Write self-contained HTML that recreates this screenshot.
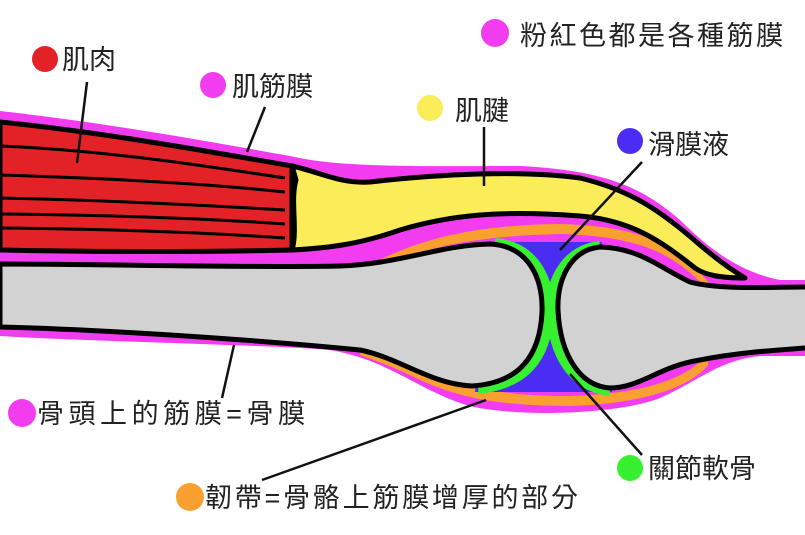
<!DOCTYPE html>
<html><head><meta charset="utf-8"><style>
html,body{margin:0;padding:0;background:#fff;width:805px;height:535px;overflow:hidden}
svg{display:block}
text{font-family:"Liberation Sans","Noto Sans CJK TC",sans-serif;font-size:27px;fill:#222}
</style></head><body>
<svg width="805" height="535" viewBox="0 0 805 535" xmlns="http://www.w3.org/2000/svg">
<path d="M0,111 C100,122 200,140 290,156 C340,168 420,166 520,166 C600,170 640,185 680,220 C710,250 740,272 780,280 L805,280 L805,356 L760,356 C720,360 700,380 660,398 C620,414 520,418 470,406 C420,392 390,360 330,350 C250,344 100,342 0,336 Z" fill="#f23cf0"/>
<path d="M375,262 C420,240 470,225 560,224 C640,226 680,245 708,282 L708,365 C690,388 640,404 570,406 C500,406 460,398 420,380 C400,370 380,362 360,355 Z" fill="#f9a030"/>
<path d="M395,262 C430,246 480,236 560,234 C635,236 670,252 700,282 L700,362 C680,380 640,394 570,396 C505,396 468,388 430,374 C410,366 390,358 372,352 Z" fill="#f23cf0"/>
<path d="M492,242 L602,242 L612,392 L475,392 Z" fill="#4b2cf2"/>
<path d="M495,244 C535,248 549,282 548,312 C546,355 526,383 478,388" fill="none" stroke="#37f030" stroke-width="12"/>
<path d="M600,247 C568,250 551,280 552,310 C554,355 574,386 610,390" fill="none" stroke="#37f030" stroke-width="12"/>
<path d="M0,264 C100,264 250,268 340,266 C400,264 440,245 490,244 C530,246 543,280 542,312 C540,355 520,383 472,386 C430,384 400,358 360,350 C280,342 120,330 0,327 Z" fill="#d2d2d2" stroke="#000" stroke-width="5"/>
<path d="M805,287 C770,287 720,290 690,282 C660,268 640,248 600,247 C570,250 557,280 558,310 C560,355 580,386 610,388 C640,388 660,366 700,360 C740,352 780,350 805,348" fill="#d2d2d2" stroke="#000" stroke-width="5"/>
<path d="M0,122 C100,132 200,150 292,166 L292,250 C200,252 100,252 0,250 Z" fill="#e22226" stroke="#000" stroke-width="5"/>
<g stroke="#000" stroke-width="3" fill="none">
<path d="M0,146 C100,150 200,165 285,178"/>
<path d="M0,175 C100,178 200,183 285,192"/>
<path d="M0,198 C100,200 200,205 285,210"/>
<path d="M0,214 C100,215 200,218 285,224"/>
<path d="M0,228 C100,229 200,232 285,238"/>
</g>
<path d="M292,166 C320,172 340,184 370,182 C440,174 520,170 580,178 C630,190 660,210 700,245 C720,262 735,272 745,278 C720,278 705,275 695,268 C660,240 630,220 580,216 C500,210 450,215 400,230 C360,244 330,248 292,250 C298,230 290,200 296,180 Z" fill="#fbec5a" stroke="#000" stroke-width="5" stroke-linejoin="round"/>
<g stroke="#111" stroke-width="2.5">
<line x1="87" y1="82" x2="77" y2="163"/>
<line x1="265" y1="107" x2="247" y2="152"/>
<line x1="484" y1="127" x2="484" y2="186"/>
<line x1="642" y1="162" x2="560" y2="250"/>
<line x1="234" y1="345" x2="222" y2="398"/>
<line x1="486" y1="400" x2="262" y2="480"/>
<line x1="570" y1="374" x2="642" y2="455"/>
</g>
<circle cx="45" cy="59" r="13" fill="#e22226"/>
<circle cx="213" cy="85" r="13" fill="#f23cf0"/>
<circle cx="495" cy="33" r="14" fill="#f23cf0"/>
<circle cx="430" cy="108" r="13" fill="#fbec5a"/>
<circle cx="630" cy="141" r="13" fill="#4b2cf2"/>
<circle cx="22" cy="413" r="14" fill="#f23cf0"/>
<circle cx="190" cy="497" r="14" fill="#f9a030"/>
<circle cx="630" cy="468" r="13" fill="#37f030"/>
<text x="62" y="69">肌肉</text>
<text x="232" y="96">肌筋膜</text>
<text x="520" y="45" textLength="263">粉紅色都是各種筋膜</text>
<text x="455" y="120">肌腱</text>
<text x="648" y="154">滑膜液</text>
<text x="37" y="423" textLength="268">骨頭上的筋膜=骨膜</text>
<text x="205" y="507" textLength="373">韌帶=骨骼上筋膜增厚的部分</text>
<text x="648" y="478">關節軟骨</text>
</svg>
</body></html>
